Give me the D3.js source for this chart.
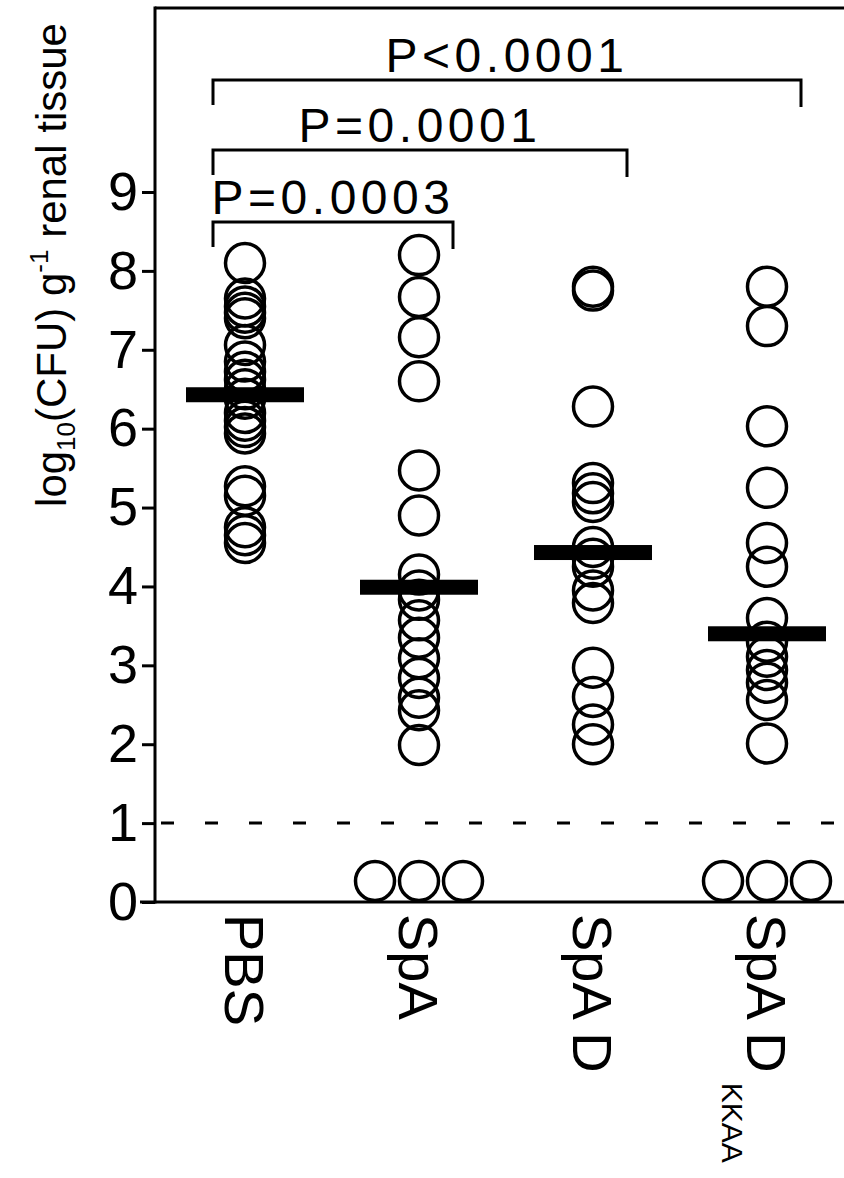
<!DOCTYPE html>
<html>
<head>
<meta charset="utf-8">
<script src="https://cdn.jsdelivr.net/npm/d3@7"></script>
<style>
  body { margin: 0; background: #fff; }
  svg { display: block; font-family: "Liberation Sans", Arial, sans-serif; }
</style>
</head>
<body>
<script>
// groups on the x axis (main label + subscript)
const groups = ['PBS', 'SpA', 'SpA D', 'SpA D KKAA'];
const labelMain = ['PBS', 'SpA', 'SpA D', 'SpA D'];
const labelSub = ['', '', '', 'KKAA'];

// log10(CFU) per animal
const pbsValues = [8.1, 7.65, 7.55, 7.47, 7.4, 7.06, 6.85, 6.72, 6.62, 6.5, 6.38, 6.2, 6.1, 6.02, 5.94, 5.27, 5.15, 4.75, 4.65, 4.55];
const spaValues = [8.2, 7.67, 7.16, 6.6, 5.47, 4.9, 4.15, 3.95, 3.83, 3.57, 3.35, 3.09, 2.84, 2.59, 2.43, 1.99];
const spaDValues = [7.8, 7.75, 6.28, 5.31, 5.18, 5.07, 4.5, 4.35, 4.25, 3.95, 3.79, 2.97, 2.6, 2.25, 2.0];
const spaDkkaaValues = [7.8, 7.3, 6.03, 5.25, 4.55, 4.25, 3.6, 3.3, 3.11, 2.94, 2.78, 2.56, 2.01];
// animals below the detection limit (drawn on the baseline)
const belowLimit = [0, 3, 0, 3];
const medians = [6.43, 3.99, 4.43, 3.4];

const detectionLimit = 1;
const yTicks = [0, 1, 2, 3, 4, 5, 6, 7, 8, 9];

// statistics brackets
const compFrom = ['PBS', 'PBS', 'PBS'];
const compTo = ['SpA', 'SpA D', 'SpA D KKAA'];
const compLabels = ['P=0.0003', 'P=0.0001', 'P<0.0001'];

const allValues = [pbsValues, spaValues, spaDValues, spaDkkaaValues];

const W = 844, H = 1178;
const svg = d3.select('body').append('svg')
  .attr('width', W)
  .attr('height', H);

const axisX = 155, baseY = 902, topY = 8;

const y = d3.scaleLinear().domain([0, 9]).range([baseY, 192]);
const x = d3.scalePoint().domain(groups).range([245, 767]);

const r = 19.5;

// top frame line
svg.append('line')
  .attr('x1', axisX).attr('x2', W)
  .attr('y1', topY).attr('y2', topY)
  .attr('stroke', '#000').attr('stroke-width', 3);

// y axis
const yAxis = d3.axisLeft(y).tickValues(yTicks).tickSize(13).tickPadding(4).tickFormat(d3.format('d'));
const gy = svg.append('g')
  .attr('transform', `translate(${axisX},0)`)
  .call(yAxis);
gy.select('.domain').remove();
gy.selectAll('.tick line').attr('stroke-width', 3);
gy.selectAll('.tick text')
  .attr('font-size', 54)
  .attr('font-family', '"Liberation Sans", Arial, sans-serif')
  .attr('fill', '#000');
svg.append('line')
  .attr('x1', axisX).attr('x2', axisX)
  .attr('y1', topY - 1.5).attr('y2', baseY + 1.5)
  .attr('stroke', '#000').attr('stroke-width', 3);

// x axis baseline
svg.append('line')
  .attr('x1', axisX - 15).attr('x2', W)
  .attr('y1', baseY).attr('y2', baseY)
  .attr('stroke', '#000').attr('stroke-width', 3);

// detection limit
svg.append('line')
  .attr('x1', axisX).attr('x2', W)
  .attr('y1', y(detectionLimit)).attr('y2', y(detectionLimit))
  .attr('stroke', '#000').attr('stroke-width', 3)
  .attr('stroke-dasharray', '13,31')
  .attr('stroke-dashoffset', -6);

// points
groups.forEach((g, i) => {
  svg.append('g').selectAll('circle')
    .data(allValues[i])
    .enter().append('circle')
    .attr('cx', x(g))
    .attr('cy', d => y(d))
    .attr('r', r)
    .attr('fill', 'none')
    .attr('stroke', '#000')
    .attr('stroke-width', 3.5);

  // values below detection limit sit on the baseline side by side
  const n = belowLimit[i];
  svg.append('g').selectAll('circle')
    .data(d3.range(n))
    .enter().append('circle')
    .attr('cx', k => x(g) + (k - (n - 1) / 2) * 2 * (r + 2.5))
    .attr('cy', y(0) - r - 1.5)
    .attr('r', r)
    .attr('fill', 'none')
    .attr('stroke', '#000')
    .attr('stroke-width', 3.5);
});

// median bars
svg.append('g').selectAll('rect')
  .data(medians)
  .enter().append('rect')
  .attr('x', (d, i) => x(groups[i]) - 59)
  .attr('y', d => y(d) - 7.5)
  .attr('width', 118)
  .attr('height', 15)
  .attr('fill', '#000');

// brackets
const levels = [222, 150, 80];
compLabels.forEach((lab, i) => {
  const x1 = x(compFrom[i]) - 32;
  const x2 = x(compTo[i]) + 34;
  const ly = levels[i];
  svg.append('path')
    .attr('d', `M${x1},${ly + 25}V${ly}H${x2}V${ly + 27}`)
    .attr('fill', 'none')
    .attr('stroke', '#000')
    .attr('stroke-width', 3);
  svg.append('text')
    .attr('x', (x1 + x2) / 2)
    .attr('y', ly - 8)
    .attr('text-anchor', 'middle')
    .attr('font-size', 48)
    .attr('letter-spacing', 4.5)
    .text(lab);
});

// x labels, rotated
groups.forEach((g, i) => {
  const t = svg.append('text')
    .attr('transform', `translate(${x(g)},914) rotate(90)`)
    .attr('font-size', 56)
    .attr('dy', '0.36em');
  t.append('tspan').text(labelMain[i]);
  if (labelSub[i]) {
    t.append('tspan')
      .attr('font-size', 30)
      .attr('dy', 25)
      .attr('dx', 10)
      .text(labelSub[i]);
  }
});

// y axis title
const yt = svg.append('text')
  .attr('transform', 'translate(66,265) rotate(-90)')
  .attr('text-anchor', 'middle')
  .attr('font-size', 42);
yt.append('tspan').text('log');
yt.append('tspan').attr('font-size', 26).attr('dy', 9).text('10');
yt.append('tspan').attr('dy', -9).text('(CFU) g');
yt.append('tspan').attr('font-size', 26).attr('dy', -18).text('-1');
yt.append('tspan').attr('dy', 18).text(' renal tissue');
</script>
</body>
</html>
